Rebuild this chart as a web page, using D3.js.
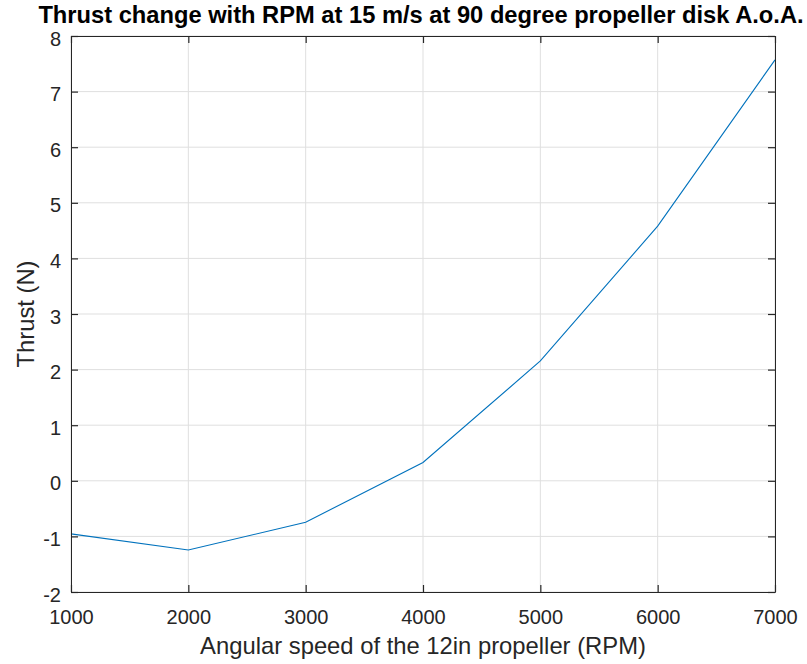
<!DOCTYPE html>
<html><head><meta charset="utf-8">
<script src="https://cdn.jsdelivr.net/npm/d3@7"></script>
<style>body{margin:0;background:#fff}svg{display:block}text{font-family:"Liberation Sans",Arial,sans-serif}</style>
</head><body><svg id="c" width="807" height="664"></svg>
<script>
const rpm = [1000, 2000, 3000, 4000, 5000, 6000, 7000];
const thrust = [-0.955, -1.245, -0.745, 0.33, 2.155, 4.58, 7.57];
const xTicks = [1000, 2000, 3000, 4000, 5000, 6000, 7000];
const yTicks = [-2, -1, 0, 1, 2, 3, 4, 5, 6, 7, 8];
const title = "Thrust change with RPM at 15 m/s at 90 degree propeller disk A.o.A.";
const xLabel = "Angular speed of the 12in propeller (RPM)";
const yLabel = "Thrust (N)";

const L = 71, R = 775, T = 36, B = 592;
const svg = d3.select("#c");
const x = d3.scaleLinear().domain([1000, 7000]).range([L, R]);
const y = d3.scaleLinear().domain([-2, 8]).range([B, T]);
const axisCol = "#262626";

// grid
const g = svg.append("g");
g.selectAll(".gx").data(xTicks).join("line")
  .attr("x1", d => x(d)).attr("x2", d => x(d)).attr("y1", T).attr("y2", B)
  .attr("stroke", "#dfdfdf").attr("stroke-width", 1);
g.selectAll(".gy").data(yTicks).join("line")
  .attr("y1", d => y(d)).attr("y2", d => y(d)).attr("x1", L).attr("x2", R)
  .attr("stroke", "#dfdfdf").attr("stroke-width", 1);

// line
svg.append("path").datum(rpm.map((r, i) => [r, thrust[i]]))
  .attr("fill", "none").attr("stroke", "#0072BD").attr("stroke-width", 1.1)
  .attr("d", d3.line().x(d => x(d[0])).y(d => y(d[1])));

// axes
const tl = 7;
const xb = svg.append("g").attr("transform", `translate(0,${B})`)
  .call(d3.axisBottom(x).tickValues(xTicks).tickFormat(d3.format("d")).tickSizeInner(-tl).tickSizeOuter(0).tickPadding(18));
const xt = svg.append("g").attr("transform", `translate(0,${T})`)
  .call(d3.axisTop(x).tickValues(xTicks).tickFormat("").tickSizeInner(-tl).tickSizeOuter(0));
const yl = svg.append("g").attr("transform", `translate(${L},0)`)
  .call(d3.axisLeft(y).tickValues(yTicks).tickFormat(d3.format("d")).tickSizeInner(-tl).tickSizeOuter(0).tickPadding(10));
const yr = svg.append("g").attr("transform", `translate(${R},0)`)
  .call(d3.axisRight(y).tickValues(yTicks).tickFormat("").tickSizeInner(-tl).tickSizeOuter(0));
[xb, xt, yl, yr].forEach(a => {
  a.select(".domain").attr("stroke", axisCol).attr("stroke-width", 1);
  a.selectAll(".tick line").attr("stroke", axisCol).attr("stroke-width", 1.2);
  a.selectAll(".tick text").attr("fill", axisCol).style("font-size", "20px")
   .style("font-family", "'Liberation Sans', Arial, sans-serif");
});
yl.selectAll(".tick text").text(d => d < 0 ? "-" + Math.abs(d) : d).attr("dy", "0.45em");

// labels
svg.append("text").attr("x", 421).attr("y", 23).attr("text-anchor", "middle")
  .style("font-weight", "bold").style("font-size", "23.7px").attr("fill", "#000").text(title);
svg.append("text").attr("x", (L + R) / 2).attr("y", 654).attr("text-anchor", "middle")
  .style("font-size", "23.8px").attr("fill", axisCol).text(xLabel);
svg.append("text").attr("transform", `translate(34,${(T + B) / 2}) rotate(-90)`).attr("text-anchor", "middle")
  .style("font-size", "23.8px").attr("fill", axisCol).text(yLabel);
</script></body></html>
